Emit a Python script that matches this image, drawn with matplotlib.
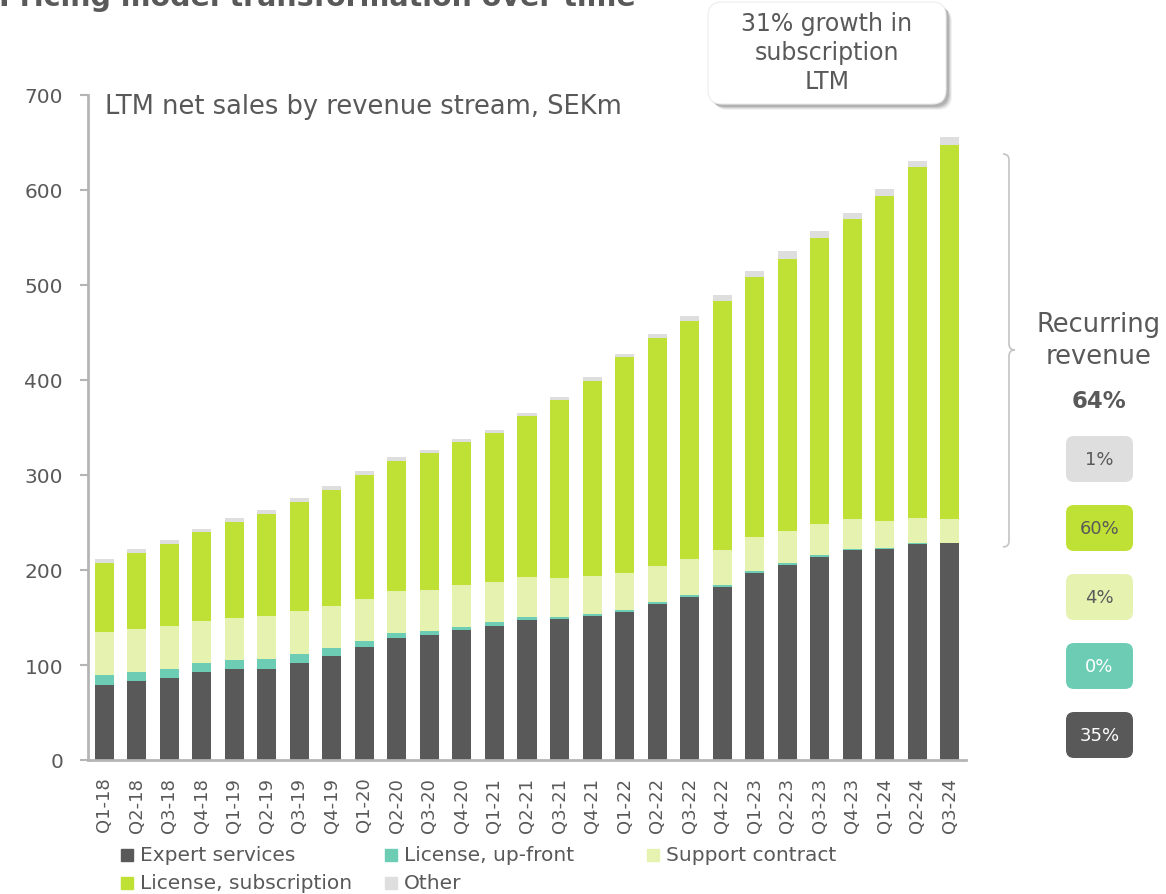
import numpy as np
import matplotlib.pyplot as plt
from matplotlib.patches import FancyBboxPatch, Rectangle, PathPatch
from matplotlib.path import Path

plt.rcParams['font.family'] = ['DejaVu Sans']

# LTM net sales by revenue stream, SEKm
quarters = ["Q1-18", "Q2-18", "Q3-18", "Q4-18", "Q1-19", "Q2-19", "Q3-19", "Q4-19",
            "Q1-20", "Q2-20", "Q3-20", "Q4-20", "Q1-21", "Q2-21", "Q3-21", "Q4-21",
            "Q1-22", "Q2-22", "Q3-22", "Q4-22", "Q1-23", "Q2-23", "Q3-23", "Q4-23",
            "Q1-24", "Q2-24", "Q3-24"]
expert = [79.0, 83.5, 86.7, 93.0, 96.1, 96.1, 102.5, 109.8, 119.3, 128.8, 131.6, 137.2,
          141.4, 147.7, 148.4, 151.6, 156.1, 163.9, 171.9, 182.4, 196.8, 205.3, 214.0,
          221.0, 222.4, 227.4, 228.4]
upfront = [10.8, 9.5, 9.1, 9.5, 9.2, 10.2, 9.1, 7.7, 6.3, 4.9, 3.8, 3.2, 3.5, 2.6, 2.1,
           1.7, 1.8, 2.4, 1.8, 2.1, 2.1, 2.1, 2.1, 1.1, 0.8, 1.0, 0.3]
support = [44.6, 44.9, 45.2, 43.8, 44.2, 44.9, 44.9, 45.0, 44.2, 44.2, 43.9, 43.8, 42.8,
           42.0, 41.1, 40.4, 39.3, 38.3, 37.9, 36.5, 36.1, 34.0, 32.3, 31.3, 28.7, 26.6, 25.3]
subscription = [73.3, 79.6, 86.7, 93.7, 101.4, 107.8, 115.1, 121.7, 130.2, 137.2, 143.9,
                150.5, 156.5, 169.8, 187.3, 205.6, 226.7, 239.6, 250.8, 262.5, 273.8,
                286.3, 301.1, 315.7, 342.1, 369.5, 393.7]
other = [3.9, 4.5, 4.2, 3.5, 3.8, 4.2, 4.2, 4.2, 3.9, 3.5, 3.1, 2.8, 2.8, 2.8, 2.9, 3.5,
         3.1, 3.9, 5.0, 5.7, 6.3, 7.7, 7.3, 6.7, 6.7, 6.0, 7.8]

series_names = ["Expert services", "License, up-front", "Support contract",
                "License, subscription", "Other"]
colors = ["#595959", "#6dcdb4", "#e5f2b0", "#bfe035", "#dedede"]

# share of latest LTM, top to bottom
share_labels = ["1%", "60%", "4%", "0%", "35%"]
share_colors = ["#dedede", "#bfe035", "#e5f2b0", "#6dcdb4", "#595959"]
share_text = ["#595959", "#595959", "#595959", "white", "white"]

txt = "#595959"
axis_col = "#b5b5b5"

W, H = 1166, 895
fig = plt.figure(figsize=(W / 100, H / 100), dpi=100)
ax = fig.add_axes([88 / W, 1 - 761 / H, (966 - 88) / W, (761 - 96) / H])


def fx(px):
    return px / W


def fy(py):
    return 1 - py / H


x = np.arange(len(quarters))
bottom = np.zeros(len(quarters))
for vals, name, c in zip([expert, upfront, support, subscription, other], series_names, colors):
    ax.bar(x, vals, 0.585, bottom=bottom, color=c, label=name, linewidth=0)
    bottom += np.array(vals)

ax.set_xlim(-0.5, len(quarters) - 0.5)
ax.set_ylim(0, 700)
ax.set_yticks(range(0, 701, 100))
ax.set_xticks(x)
ax.set_xticklabels(quarters, rotation=90, fontsize=13, color=txt)
ax.tick_params(axis='x', length=0, pad=12)
ax.tick_params(axis='y', length=6, width=1.5, color=axis_col, labelsize=14.5,
               labelcolor=txt, pad=12)
for s in ['top', 'right']:
    ax.spines[s].set_visible(False)
for s in ['left', 'bottom']:
    ax.spines[s].set_color(axis_col)
    ax.spines[s].set_linewidth(2)

fig.text(fx(105), fy(114), "LTM net sales by revenue stream, SEKm", fontsize=18.5,
         color=txt, va='baseline')

# page title, cut off at the top edge as in the original
fig.text(fx(-1), fy(6), "Pricing model transformation over time", fontsize=20.5,
         fontweight='bold', color=txt, va='baseline')

# legend, drawn row-wise like the original
slots = [(121, 856), (385, 856), (647, 856), (121, 884), (385, 884)]
for (sx, sy), name, c in zip(slots, series_names, colors):
    fig.patches.append(Rectangle((fx(sx), fy(sy + 6)), 12 / W, 12 / H, color=c,
                                 transform=fig.transFigure, figure=fig))
    fig.text(fx(sx + 19), fy(sy), name, fontsize=14.5, color=txt, va='center')

# callout box with shadow
inch = fig.dpi_scale_trans
bx, by, bw, bh = 708, 3, 238, 102
for k, a in [(6, 0.05), (5, 0.07), (4, 0.09), (3, 0.12)]:
    fig.patches.append(FancyBboxPatch(((bx + k) / 100, (H - by - bh - k) / 100), bw / 100, bh / 100,
                                      boxstyle="round,pad=0,rounding_size=0.14",
                                      facecolor='black', alpha=a, linewidth=0,
                                      transform=inch, figure=fig))
fig.patches.append(FancyBboxPatch((bx / 100, (H - by - bh) / 100), bw / 100, bh / 100,
                                  boxstyle="round,pad=0,rounding_size=0.14",
                                  facecolor='white', edgecolor='#ececec', linewidth=0.8,
                                  transform=inch, figure=fig))
fig.text(fx(827), fy(53), "31% growth in\nsubscription\nLTM", fontsize=17, color=txt,
         ha='center', va='center', linespacing=1.25)

# curly brace for recurring revenue
top, mid, bot = 155, 351, 548
verts = [(1003, top), (1009, top), (1009, top + 6), (1009, mid - 6), (1009, mid),
         (1015, mid), (1009, mid), (1009, mid + 6), (1009, bot - 6), (1009, bot), (1003, bot)]
codes = [Path.MOVETO, Path.CURVE3, Path.CURVE3, Path.LINETO, Path.CURVE3, Path.CURVE3,
         Path.CURVE3, Path.CURVE3, Path.LINETO, Path.CURVE3, Path.CURVE3]
verts = [(fx(a), fy(b)) for a, b in verts]
fig.patches.append(PathPatch(Path(verts, codes), facecolor='none', edgecolor='#c4c4c4',
                             linewidth=1.2, transform=fig.transFigure, figure=fig))

fig.text(fx(1099), fy(341), "Recurring\nrevenue", fontsize=18.5, color=txt, ha='center',
         va='center', linespacing=1.25)
fig.text(fx(1099), fy(401), "64%", fontsize=16.5, fontweight='bold', color=txt,
         ha='center', va='center')

box_tops = [437, 506, 575, 644, 713]
for ty, lab, c, tc in zip(box_tops, share_labels, share_colors, share_text):
    fig.patches.append(FancyBboxPatch((1066 / 100, (H - ty - 46) / 100), 67 / 100, 46 / 100,
                                      boxstyle="round,pad=0,rounding_size=0.08",
                                      facecolor=c, linewidth=0, transform=inch, figure=fig))
    fig.text(fx(1099.5), fy(ty + 23), lab, fontsize=13, color=tc, ha='center', va='center')

fig.savefig("out.png", dpi=100)
